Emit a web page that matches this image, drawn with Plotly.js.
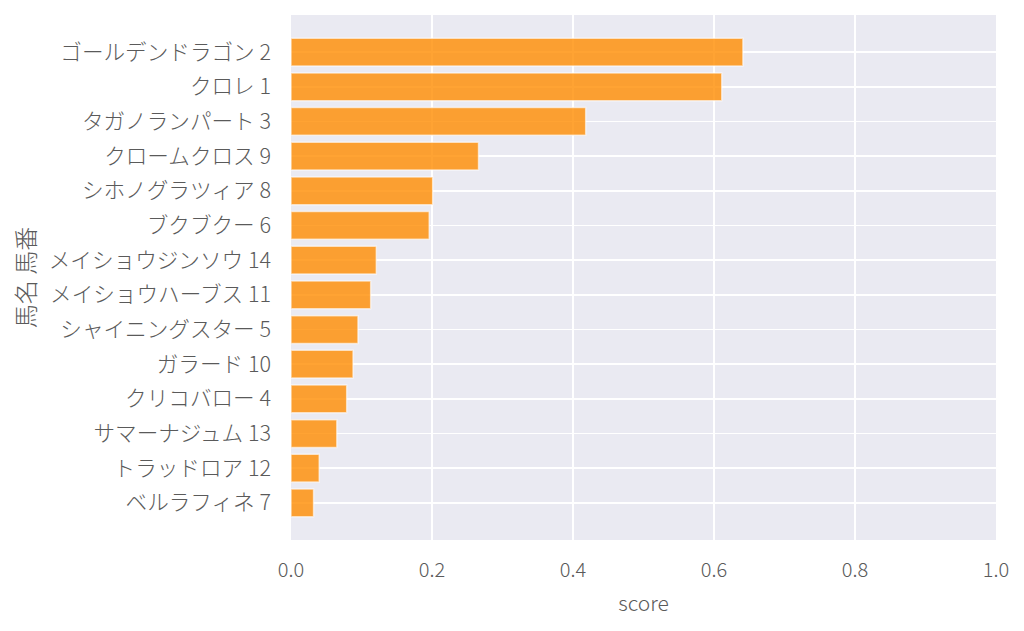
<!DOCTYPE html>
<html>
<head>
<meta charset="utf-8">
<script src="https://cdn.plot.ly/plotly-3.0.1.min.js"></script>
<style>
  html, body { margin: 0; padding: 0; background: #fff; }
  #chart { width: 1024px; height: 631px; }
</style>
</head>
<body>
<div id="chart"></div>
<script>
// horses, top to bottom
var horses = [
  'ゴールデンドラゴン 2', 'クロレ 1', 'タガノランパート 3', 'クロームクロス 9',
  'シホノグラツィア 8', 'ブクブクー 6', 'メイショウジンソウ 14', 'メイショウハーブス 11',
  'シャイニングスター 5', 'ガラード 10', 'クリコバロー 4', 'サマーナジュム 13',
  'トラッドロア 12', 'ベルラフィネ 7'
];
var scores = [0.641, 0.611, 0.418, 0.266, 0.201, 0.196, 0.121, 0.113,
              0.095, 0.088, 0.079, 0.065, 0.040, 0.032];
var xTicks = [0, 0.2, 0.4, 0.6, 0.8, 1.0];
var xTickText = ['0.0', '0.2', '0.4', '0.6', '0.8', '1.0'];

var fontFam = '"Noto Sans CJK JP Light", "Noto Sans CJK JP", "Noto Sans", sans-serif';

var trace = {
  type: 'bar',
  orientation: 'h',
  x: scores,
  y: horses,
  width: 0.8,
  marker: {
    color: 'rgba(255,140,0,0.8)',
    line: {color: 'rgba(255,255,255,0.6)', width: 1.5}
  },
  hoverinfo: 'x+y'
};

var layout = {
  width: 1024,
  height: 631,
  margin: {l: 291, r: 28, t: 15, b: 91},
  paper_bgcolor: '#ffffff',
  plot_bgcolor: '#eaeaf2',
  showlegend: false,
  font: {family: fontFam, color: '#5a5a5a', size: 20, weight: 300},
  xaxis: {
    range: [0, 1.0],
    tickvals: xTicks,
    ticktext: xTickText,
    showgrid: true,
    gridcolor: '#ffffff',
    gridwidth: 1.6,
    zeroline: false,
    showline: false,
    ticks: '',
    ticklabelstandoff: 16,
    tickfont: {size: 20, color: '#5a5a5a', weight: 300},
    title: {text: 'score', font: {size: 21, color: '#5a5a5a', weight: 300}, standoff: 14}
  },
  yaxis: {
    type: 'category',
    categoryorder: 'array',
    categoryarray: horses,
    range: [13 + 1.07, -1.07],
    showgrid: true,
    gridcolor: '#ffffff',
    gridwidth: 1.6,
    zeroline: false,
    showline: false,
    ticks: '',
    ticklabelstandoff: 19,
    tickfont: {size: 21.6, color: '#5a5a5a', weight: 300},
    title: {text: '馬名 馬番', font: {size: 24, color: '#5a5a5a', weight: 300}, standoff: 6}
  },
  bargap: 0.2
};

Plotly.newPlot('chart', [trace], layout, {displayModeBar: false, staticPlot: true});
</script>
</body>
</html>
